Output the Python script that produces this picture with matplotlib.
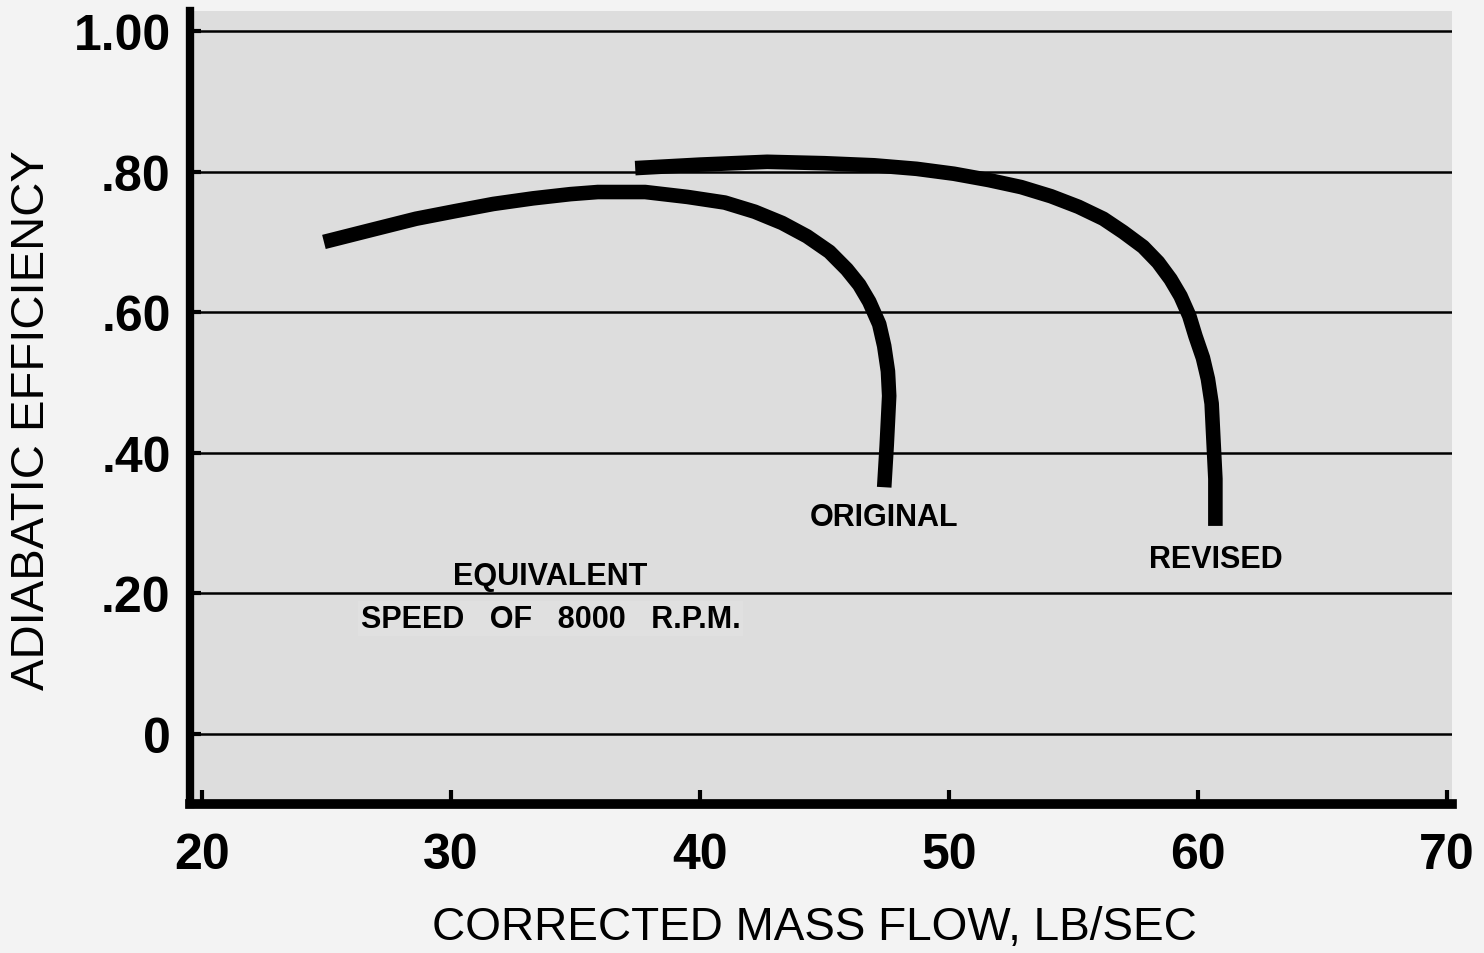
import matplotlib.pyplot as plt
import numpy as np

# mass flow (lb/sec) and adiabatic efficiency
orig_flow = [24.9, 26.8, 28.6, 30.2, 31.7, 33.3, 34.8, 35.9, 37.8, 39.5, 41.0,
             42.2, 43.3, 44.3, 45.2, 45.9, 46.4, 46.8, 47.2, 47.4, 47.55, 47.6,
             47.55, 47.5, 47.4]
orig_eff = [0.700, 0.717, 0.733, 0.744, 0.754, 0.762, 0.768, 0.771, 0.771, 0.764,
            0.756, 0.743, 0.727, 0.708, 0.686, 0.661, 0.639, 0.615, 0.583, 0.552,
            0.516, 0.481, 0.445, 0.410, 0.351]

rev_flow = [37.4, 40.0, 42.7, 45.0, 47.0, 48.7, 50.2, 51.6, 52.9, 54.1, 55.2,
            56.2, 57.0, 57.8, 58.4, 58.9, 59.3, 59.65, 59.9, 60.2, 60.4, 60.55,
            60.6, 60.7, 60.7]
rev_eff = [0.805, 0.810, 0.814, 0.812, 0.809, 0.804, 0.797, 0.788, 0.778, 0.765,
           0.750, 0.733, 0.714, 0.693, 0.671, 0.647, 0.623, 0.595, 0.566, 0.535,
           0.505, 0.470, 0.434, 0.363, 0.296]

y_ticks = [0, 0.2, 0.4, 0.6, 0.8, 1.0]
y_labels = ['0', '.20', '.40', '.60', '.80', '1.00']
x_ticks = [20, 30, 40, 50, 60, 70]

plt.rcParams['font.family'] = ['Liberation Sans', 'DejaVu Sans']

fig = plt.figure(figsize=(14.84, 9.54), dpi=100, facecolor='#f3f3f3')
ax = fig.add_axes([0.128, 0.1562, 0.8504, 0.8312], facecolor='#dddddd')

ax.set_xlim(19.52, 70.2)
ax.set_ylim(-0.0996, 1.0285)

# horizontal rules
for yv in y_ticks:
    ax.axhline(yv, color='black', lw=1.8, zorder=1)

ax.plot(orig_flow, orig_eff, color='black', lw=10.5, solid_capstyle='butt',
        solid_joinstyle='round', zorder=3)
ax.plot(rev_flow, rev_eff, color='black', lw=10.5, solid_capstyle='butt',
        solid_joinstyle='round', zorder=3)

note = dict(fontsize=22, fontweight='bold', ha='center', va='center', zorder=4)
ax.text(47.4, 0.309, 'ORIGINAL', **note)
ax.text(60.7, 0.249, 'REVISED', **note)
ax.text(34.0, 0.225, 'EQUIVALENT', **note)
ax.text(34.0, 0.164, 'SPEED   OF   8000   R.P.M.', **note,
        bbox=dict(facecolor='#e0e0e0', edgecolor='none', pad=2))

ax.spines['top'].set_visible(False)
ax.spines['right'].set_visible(False)
ax.spines['left'].set_linewidth(6)
ax.spines['bottom'].set_linewidth(7)

ax.set_yticks(y_ticks)
ax.set_yticklabels(y_labels, fontsize=36, fontweight='bold')
ax.set_xticks(x_ticks)
ax.set_xticklabels([str(v) for v in x_ticks], fontsize=36, fontweight='bold')
ax.tick_params(axis='y', direction='in', length=8, width=3, pad=14)
ax.tick_params(axis='x', direction='in', length=10, width=3, pad=20)

ax.set_xlabel('CORRECTED MASS FLOW, LB/SEC', fontsize=33)
ax.set_ylabel('ADIABATIC EFFICIENCY', fontsize=34)
ax.xaxis.set_label_coords(0.495, -0.128)
ax.yaxis.set_label_coords(-0.108, 0.4855)

fig.savefig('out.png', dpi=100, facecolor=fig.get_facecolor())
